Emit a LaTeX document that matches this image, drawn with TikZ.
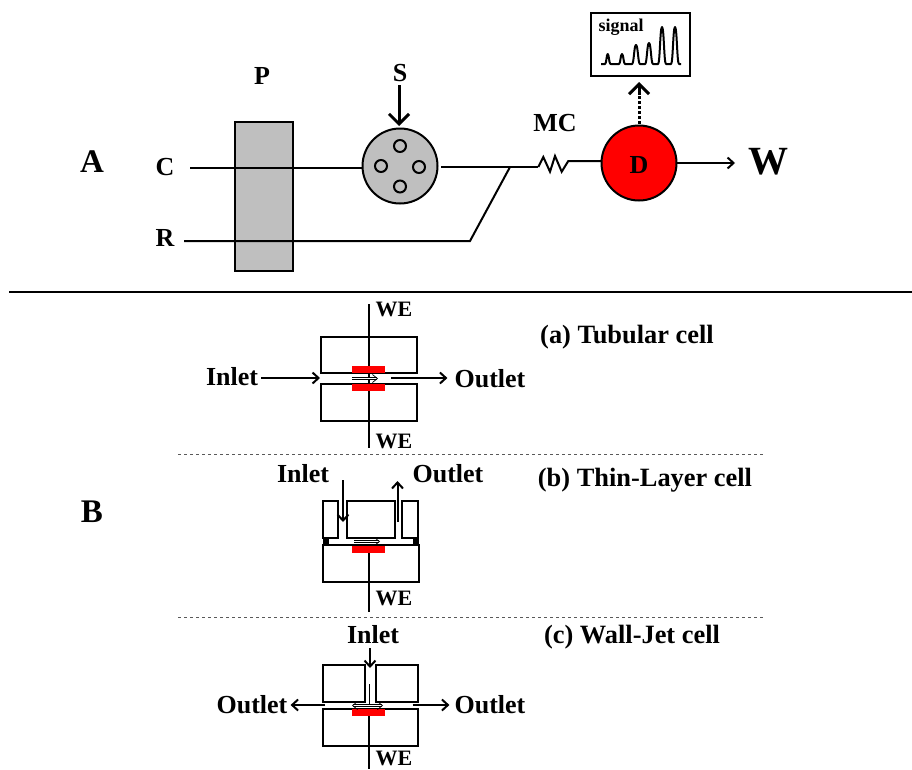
\documentclass[tikz,border=0pt]{standalone}
\usepackage{fontspec}
\setmainfont{Liberation Serif}
\usepackage{xcolor}
\usetikzlibrary{positioning,arrows.meta}
\definecolor{pumpc}{RGB}{191,191,191}
\definecolor{electc}{RGB}{255,0,0}
\tikzset{
  lbl/.style={font=\fontsize{26}{28}\selectfont\bfseries,inner sep=0pt},
  biglbl/.style={font=\fontsize{33}{35}\selectfont\bfseries,inner sep=0pt},
  welbl/.style={font=\fontsize{22}{24}\selectfont\bfseries,inner sep=0pt},
  celllbl/.style={font=\fontsize{26.4}{28}\selectfont\bfseries,inner sep=0pt},
  ln/.style={line width=2pt},
  ar/.style={ln,-{Straight Barb[length=6pt,width=11pt]}},
  thickar/.style={line width=3pt,-{Straight Barb[length=10pt,width=20pt]}},
  flowar/.style={line width=.7pt,double=white,double distance=1pt,-{Straight Barb[length=5pt,width=8pt]}},
  cellbox/.style={draw,line width=2pt,fill=white,inner sep=0pt,outer sep=0pt},
  elect/.style={fill=electc,inner sep=0pt,outer sep=0pt,minimum width=33pt,minimum height=6.5pt},
  disc/.style={circle,draw,line width=2pt,minimum size=75pt,inner sep=0pt,outer sep=0pt},
  port/.style={circle,draw,line width=2pt,minimum size=12pt,inner sep=0pt,fill=pumpc},
  sep/.style={dashed,line width=.9pt,gray!70!black},
  seal/.style={fill=black,inner sep=0pt,outer sep=0pt,minimum width=6pt,minimum height=7pt},
}
\begin{document}
\begin{tikzpicture}[x=1pt,y=-1pt]
  \useasboundingbox (0,0) rectangle (912,769);
  % part A
  \node[biglbl] (labA) at (92,162) {A};
  \node[lbl] (labC) at (165,167) {C};
  \node[lbl] (labR) at (165,238) {R};
  \node[lbl] (labP) at (262,76) {P};
  \node[lbl] (labS) at (400,73) {S};
  \node[lbl] (labMC) at (555,123) {MC};
  \node[draw,line width=1.5pt,fill=pumpc,minimum width=58pt,minimum height=149pt,inner sep=0pt] (pump) at (264,196.5) {};
  \node[disc,fill=pumpc] (valve) at (400,166) {};
  \node[port] (portt) at (400,146) {};
  \node[port] (portl) at (381,166) {};
  \node[port] (portr) at (419,167) {};
  \node[port] (portb) at (400,186.5) {};
  \node[disc,fill=electc] (det) at (639,163) {};
  \node[lbl] (labD) at (639,165) {D};
  \node[biglbl,font=\fontsize{40}{42}\selectfont\bfseries] (labW) at (768,162) {W};
  \coordinate (cstart) at (190,168);
  \coordinate (rstart) at (184,241);
  \coordinate (rbend) at (470,241);
  \coordinate (mix) at (510,167);
  \coordinate (vout) at (441,167);
  \coordinate (mcin) at (538.3,167);
  \coordinate (mcout) at (568.3,161);
  \draw[ln] (cstart) -- (valve.west |- cstart);
  \draw[ln] (rstart) -- (rbend) -- (mix);
  \draw[ln] (vout) -- (mcin);
  \draw[ln,line join=miter] (mcin) -- (543.3,157) -- (550,171.7) -- (555,156) -- (561.7,171.7) -- (mcout) -- (det.west |- mcout);
  \coordinate (wend) at (735,163);
  \draw[ar] (det.east) -- (wend);
  \coordinate (ssrc) at (399,85);
  \coordinate (stip) at (399,126);
  \draw[thickar] (ssrc) -- (stip);
  % signal window
  \node[draw,line width=1.8pt,minimum width=99pt,minimum height=63pt,inner sep=0pt] (screen) at (640.5,44.5) {};
  \node[font=\fontsize{18}{20}\selectfont\bfseries,inner sep=0pt] (labsig) at (621,27) {signal};
  \draw[line width=2pt,line join=round] (601,64) -- (605,64) .. controls (606.5,64) and (606.5,54) .. (607.7,54) .. controls (609,54) and (609,64) .. (610.5,64)
    -- (619,64) .. controls (620.5,64) and (620.5,54) .. (622,54) .. controls (623.5,54) and (623.5,64) .. (625,64)
    -- (632,64) .. controls (634,64) and (634,45) .. (636,45) .. controls (638,45) and (638,64) .. (640,64)
    -- (645,64) .. controls (647,64) and (647,43) .. (649,43) .. controls (651,43) and (651,64) .. (653,64)
    -- (658,64) .. controls (660,64) and (660,27) .. (662,27) .. controls (664,27) and (664,64) .. (666,64)
    -- (671,64) .. controls (673,64) and (673,27) .. (675,27) .. controls (677,27) and (677,64) .. (679,64) -- (681,64);
  \coordinate (sigtip) at (639,82);
  \coordinate (sigmid) at (639,95);
  \draw[line width=3pt,dash pattern=on 2.5pt off 2.5pt] (det.north) ++(0,-2) -- (sigmid);
  \draw[thickar] (sigmid) -- (sigtip);
  \draw[line width=2pt] (9,292) -- (912,292);
  \node[biglbl] (labB) at (92,512) {B};
  \foreach \y in {454,617} {\draw[sep] (178,\y) -- (765,\y);}
  % (a) tubular cell
  \node[celllbl] (labta) at (627,337) {(a) Tubular cell};
  \coordinate (wetop) at (369,304);
  \coordinate (webot) at (369,448);
  \draw[ln] (wetop) -- (webot);
  \node[cellbox,fill=none,minimum width=96pt,minimum height=36.5pt] (tubup) at (368.5,355) {};
  \node[cellbox,fill=none,minimum width=96pt,minimum height=36.5pt] (tublo) at (368.5,402.5) {};
  \node[elect] (redup) at (368.5,369.7) {};
  \node[elect] (redlo) at (368.5,387.3) {};
  \node[welbl] (weta) at (394,309) {WE};
  \node[welbl] (wetb) at (394,441) {WE};
  \node[lbl] (inta) at (232,377) {Inlet};
  \node[lbl] (outa) at (490,379) {Outlet};
  \coordinate (intip) at (320,378);
  \coordinate (outst) at (391,378);
  \draw[ar] (inta.east) ++(3,1) -- (intip);
  \draw[ar] (outst) -- ([xshift=-7pt]outa.west |- outst);
  \coordinate (flowa) at (352,378.5);
  \coordinate (flowb) at (378,378.5);
  \draw[flowar] (flowa) -- (flowb);
  % (b) thin-layer cell
  \node[celllbl,font=\fontsize{26.4}{28}\selectfont\bfseries] (labtb) at (645,480) {(b) Thin-Layer cell};
  \node[cellbox,minimum width=15pt,minimum height=37pt] (tlleft) at (330.5,519.5) {};
  \node[cellbox,minimum width=47.5pt,minimum height=37pt] (tlmid) at (371.2,519.5) {};
  \node[cellbox,minimum width=16pt,minimum height=37pt] (tlright) at (410,519.5) {};
  \node[cellbox,minimum width=96pt,minimum height=37pt] (tllow) at (371,563) {};
  \node[seal] (sealb) at (326,541) {};
  \node[seal] (sealc) at (416,541) {};
  \node[elect] (redb) at (368.5,549.5) {};
  \coordinate (wetl) at (368.5,553);
  \coordinate (wetlb) at (368.5,612);
  \draw[ln] (wetl) -- (wetlb);
  \node[welbl] (wetc) at (394,598) {WE};
  \node[lbl] (inb) at (303,474) {Inlet};
  \node[lbl] (outb) at (448,474) {Outlet};
  \coordinate (inbs) at (343,480);
  \coordinate (inbt) at (343,522);
  \coordinate (outbs) at (397.5,522);
  \coordinate (outbt) at (397.5,481);
  \draw[ar] (inbs) -- (inbt);
  \draw[ar] (outbs) -- (outbt);
  \coordinate (flowc) at (354,541.5);
  \coordinate (flowd) at (380,541.5);
  \draw[flowar] (flowc) -- (flowd);
  % (c) wall-jet cell
  \node[celllbl] (labtc) at (632,637) {(c) Wall-Jet cell};
  \node[cellbox,minimum width=42.5pt,minimum height=37pt] (wjleft) at (344,683.3) {};
  \node[cellbox,minimum width=42.5pt,minimum height=37pt] (wjright) at (396.8,683.3) {};
  \node[cellbox,minimum width=95.5pt,minimum height=37pt] (wjlow) at (370.5,727.5) {};
  \node[elect] (redc) at (368.5,712.5) {};
  \coordinate (wewj) at (369,716);
  \coordinate (wewjb) at (369,769);
  \draw[ln] (wewj) -- (wewjb);
  \node[welbl] (wed) at (394,758) {WE};
  \node[lbl] (inc) at (373,635) {Inlet};
  \node[lbl] (outc) at (252,705) {Outlet};
  \node[lbl] (outd) at (490,705) {Outlet};
  \coordinate (incs) at (370,648);
  \coordinate (inct) at (370,668);
  \draw[ar] (incs) -- (inct);
  \coordinate (lefts) at (325,705);
  \coordinate (rights) at (412.7,705);
  \draw[ar] (lefts) -- ([xshift=3pt]outc.east |- lefts);
  \draw[ar] (rights) -- ([xshift=-5pt]outd.west |- rights);
  \coordinate (jeta) at (369.5,684);
  \coordinate (jetb) at (369.5,705);
  \draw[line width=1.2pt] (jeta) -- (jetb);
  \coordinate (flowe) at (352,705.5);
  \coordinate (flowf) at (383,705.5);
  \draw[flowar,{Straight Barb[length=5pt,width=8pt]}-{Straight Barb[length=5pt,width=8pt]}] (flowe) -- (flowf);
\end{tikzpicture}
\end{document}
